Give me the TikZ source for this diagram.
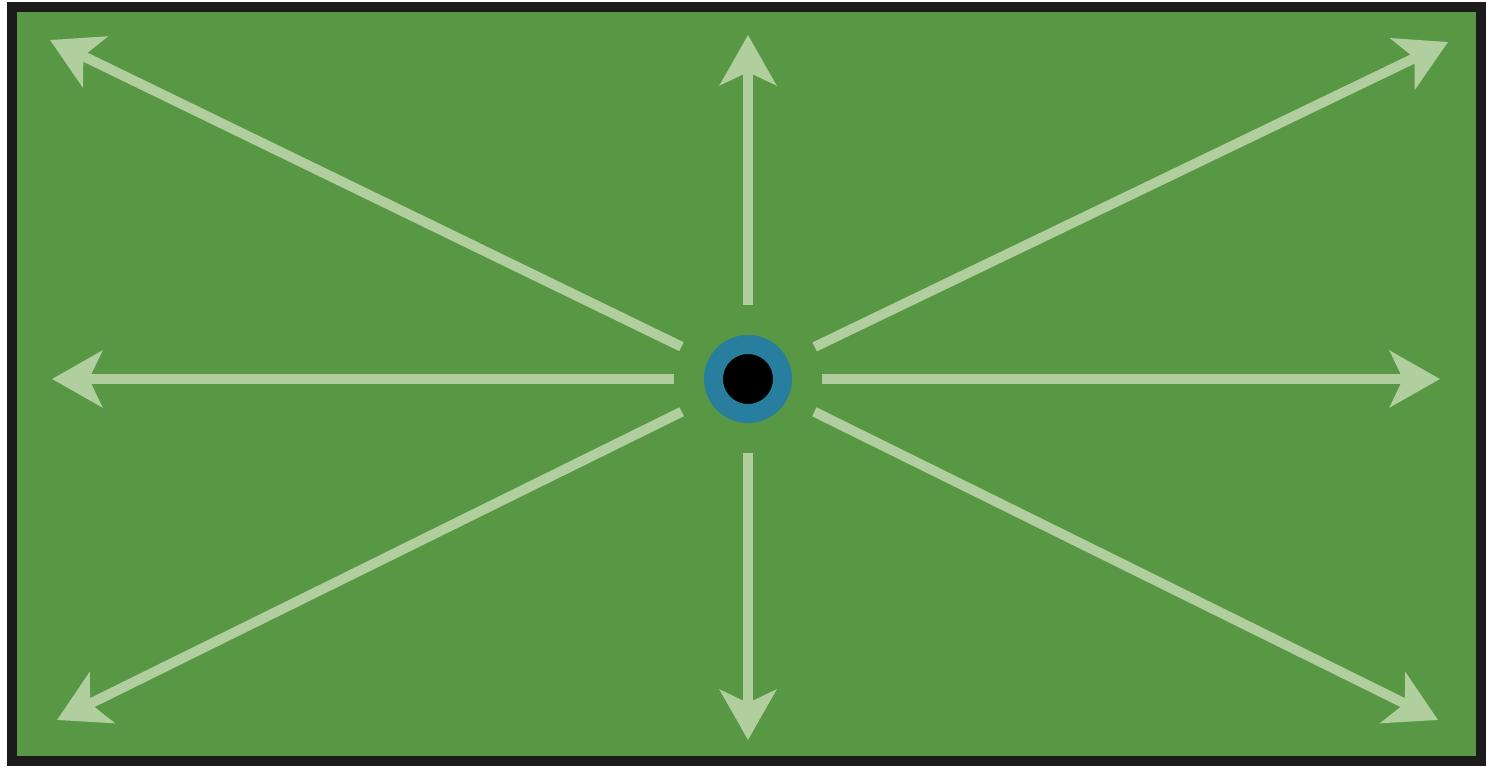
\documentclass[tikz,border=0pt]{standalone}
\usetikzlibrary{arrows.meta}
\definecolor{fieldgreen}{RGB}{88,152,68}
\definecolor{arrowgreen}{RGB}{176,206,158}
\definecolor{ringblue}{RGB}{40,126,158}
\definecolor{framedark}{RGB}{28,26,26}
\begin{document}
\begin{tikzpicture}[x=1pt,y=-1pt,
  ray/.style={draw=arrowgreen,line width=10pt,shorten <=30pt,
    -{Stealth[length=50pt,width=56pt,inset=13pt]}},
  hole/.style={circle,fill=black,draw=ringblue,line width=19pt,minimum size=69pt,inner sep=0pt}]
\useasboundingbox (0,0) rectangle (1487,767);
\fill[white] (0,0) rectangle (1487,767);
\draw[fill=fieldgreen,draw=framedark,line width=10pt] (12,7) rectangle (1481,761);
\node[hole] (c) at (748,379) {};
\coordinate (n) at (748,35);
\coordinate (s) at (748,740);
\coordinate (w) at (52,379);
\coordinate (e) at (1440,379);
\coordinate (nw) at (50,40);
\coordinate (ne) at (1448,42);
\coordinate (sw) at (57,720);
\coordinate (se) at (1438,720);
\foreach \t in {n,s,w,e,nw,ne,sw,se}
  \draw[ray] (c) -- (\t);
\end{tikzpicture}
\end{document}
